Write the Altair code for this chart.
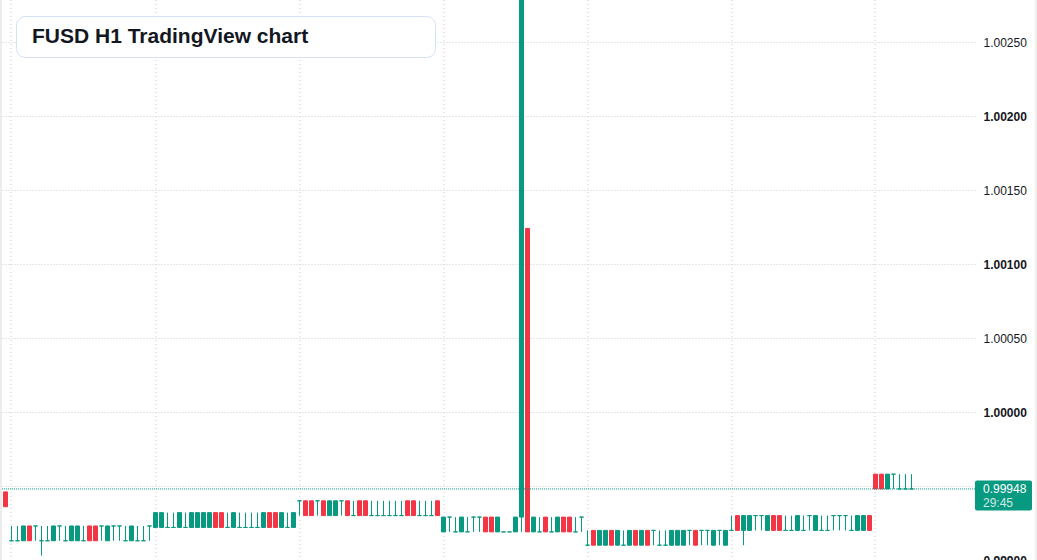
import altair as alt
import pandas as pd

# ---------------- data (one H1 candle per entry) ----------------
opens = [
    0.99946,
    0.99913, 0.99913, 0.99913, 0.99923, 0.99923, 0.99913, 0.99913, 0.99913, 0.99923, 0.99913, 0.99913, 0.99913,
    0.99913, 0.99923, 0.99923, 0.99923, 0.99913, 0.99923, 0.99923, 0.99913, 0.99913, 0.99913, 0.99913, 0.99923,
    0.99922, 0.99922, 0.99922, 0.99922, 0.99922, 0.99922, 0.99922, 0.99922, 0.99922, 0.99922, 0.99932, 0.99932,
    0.99922, 0.99922, 0.99922, 0.99922, 0.99922, 0.99922, 0.99922, 0.99932, 0.99932, 0.99922, 0.99922, 0.99922,
    0.99940, 0.99940, 0.99940, 0.99940, 0.99940, 0.99930, 0.99930, 0.99940, 0.99940, 0.99930, 0.99940, 0.99940,
    0.99930, 0.99930, 0.99930, 0.99930, 0.99930, 0.99930, 0.99940, 0.99940, 0.99930, 0.99930, 0.99930, 0.99940,
    0.99919, 0.99929, 0.99919, 0.99919, 0.99919, 0.99929, 0.99929, 0.99929, 0.99929, 0.99919, 0.99919, 0.99919,
    0.99919, 0.99929, 1.00124, 0.99919, 0.99919, 0.99929, 0.99919, 0.99919, 0.99929, 0.99929, 0.99919, 0.99929,
    0.99910, 0.99920, 0.99910, 0.99910, 0.99920, 0.99910, 0.99910, 0.99910, 0.99920, 0.99910, 0.99920, 0.99920,
    0.99910, 0.99910, 0.99910, 0.99910, 0.99910, 0.99920, 0.99920, 0.99920, 0.99920, 0.99910, 0.99920, 0.99910,
    0.99920, 0.99930, 0.99920, 0.99920, 0.99930, 0.99930, 0.99920, 0.99930, 0.99930, 0.99920, 0.99920, 0.99920,
    0.99920, 0.99930, 0.99920, 0.99920, 0.99920, 0.99930, 0.99930, 0.99930, 0.99920, 0.99920, 0.99920, 0.99930,
    0.99958, 0.99958, 0.99948, 0.99958, 0.99948, 0.99948, 0.99948,
]

closes = [
    0.99936,
    0.99913, 0.99913, 0.99923, 0.99913, 0.99923, 0.99913, 0.99913, 0.99923, 0.99923, 0.99913, 0.99923, 0.99923,
    0.99913, 0.99913, 0.99913, 0.99923, 0.99923, 0.99923, 0.99923, 0.99913, 0.99923, 0.99913, 0.99913, 0.99923,
    0.99932, 0.99932, 0.99922, 0.99922, 0.99932, 0.99922, 0.99932, 0.99932, 0.99932, 0.99932, 0.99922, 0.99922,
    0.99922, 0.99932, 0.99922, 0.99922, 0.99922, 0.99922, 0.99932, 0.99922, 0.99922, 0.99932, 0.99922, 0.99932,
    0.99940, 0.99930, 0.99930, 0.99940, 0.99930, 0.99940, 0.99940, 0.99940, 0.99930, 0.99930, 0.99930, 0.99930,
    0.99930, 0.99930, 0.99930, 0.99930, 0.99930, 0.99930, 0.99930, 0.99930, 0.99930, 0.99930, 0.99930, 0.99930,
    0.99929, 0.99929, 0.99919, 0.99929, 0.99919, 0.99929, 0.99929, 0.99919, 0.99919, 0.99929, 0.99919, 0.99919,
    0.99929, 1.00300, 0.99919, 0.99929, 0.99919, 0.99919, 0.99919, 0.99929, 0.99919, 0.99919, 0.99919, 0.99929,
    0.99910, 0.99910, 0.99920, 0.99920, 0.99910, 0.99920, 0.99910, 0.99920, 0.99910, 0.99920, 0.99910, 0.99920,
    0.99910, 0.99910, 0.99920, 0.99920, 0.99920, 0.99920, 0.99910, 0.99920, 0.99920, 0.99920, 0.99920, 0.99920,
    0.99920, 0.99920, 0.99930, 0.99930, 0.99930, 0.99930, 0.99930, 0.99920, 0.99920, 0.99920, 0.99920, 0.99930,
    0.99920, 0.99930, 0.99930, 0.99920, 0.99920, 0.99930, 0.99930, 0.99930, 0.99920, 0.99930, 0.99930, 0.99920,
    0.99948, 0.99948, 0.99958, 0.99958, 0.99948, 0.99948, 0.99948,
]

highs = [
    0.99946,
    0.99923, 0.99923, 0.99923, 0.99923, 0.99923, 0.99923, 0.99923, 0.99923, 0.99923, 0.99923, 0.99923, 0.99923,
    0.99923, 0.99923, 0.99923, 0.99923, 0.99923, 0.99923, 0.99923, 0.99923, 0.99923, 0.99923, 0.99923, 0.99923,
    0.99932, 0.99932, 0.99932, 0.99932, 0.99932, 0.99932, 0.99932, 0.99932, 0.99932, 0.99932, 0.99932, 0.99932,
    0.99932, 0.99932, 0.99932, 0.99932, 0.99932, 0.99932, 0.99932, 0.99932, 0.99932, 0.99932, 0.99932, 0.99932,
    0.99940, 0.99940, 0.99940, 0.99940, 0.99940, 0.99940, 0.99940, 0.99940, 0.99940, 0.99940, 0.99940, 0.99940,
    0.99940, 0.99940, 0.99940, 0.99940, 0.99940, 0.99940, 0.99940, 0.99940, 0.99940, 0.99940, 0.99940, 0.99940,
    0.99929, 0.99929, 0.99929, 0.99929, 0.99929, 0.99929, 0.99929, 0.99929, 0.99929, 0.99929, 0.99919, 0.99919,
    0.99929, 1.00300, 1.00124, 0.99929, 0.99929, 0.99929, 0.99929, 0.99929, 0.99929, 0.99929, 0.99929, 0.99929,
    0.99920, 0.99920, 0.99920, 0.99920, 0.99920, 0.99920, 0.99920, 0.99920, 0.99920, 0.99920, 0.99920, 0.99920,
    0.99920, 0.99920, 0.99920, 0.99920, 0.99920, 0.99920, 0.99920, 0.99920, 0.99920, 0.99920, 0.99920, 0.99920,
    0.99930, 0.99930, 0.99930, 0.99930, 0.99930, 0.99930, 0.99930, 0.99930, 0.99930, 0.99930, 0.99930, 0.99930,
    0.99930, 0.99930, 0.99930, 0.99930, 0.99930, 0.99930, 0.99930, 0.99930, 0.99930, 0.99930, 0.99930, 0.99930,
    0.99958, 0.99958, 0.99958, 0.99958, 0.99958, 0.99958, 0.99958,
]

lows = [
    0.99936,
    0.99913, 0.99913, 0.99913, 0.99913, 0.99913, 0.99903, 0.99913, 0.99913, 0.99913, 0.99913, 0.99913, 0.99913,
    0.99913, 0.99913, 0.99913, 0.99913, 0.99913, 0.99913, 0.99913, 0.99913, 0.99913, 0.99913, 0.99913, 0.99913,
    0.99922, 0.99922, 0.99922, 0.99922, 0.99922, 0.99922, 0.99922, 0.99922, 0.99922, 0.99922, 0.99922, 0.99922,
    0.99922, 0.99922, 0.99922, 0.99922, 0.99922, 0.99922, 0.99922, 0.99922, 0.99922, 0.99922, 0.99922, 0.99922,
    0.99930, 0.99930, 0.99930, 0.99930, 0.99930, 0.99930, 0.99930, 0.99930, 0.99930, 0.99930, 0.99930, 0.99930,
    0.99930, 0.99930, 0.99930, 0.99930, 0.99930, 0.99930, 0.99930, 0.99930, 0.99930, 0.99930, 0.99930, 0.99930,
    0.99919, 0.99919, 0.99919, 0.99919, 0.99919, 0.99919, 0.99919, 0.99919, 0.99919, 0.99919, 0.99919, 0.99919,
    0.99919, 0.99919, 0.99919, 0.99919, 0.99919, 0.99919, 0.99919, 0.99919, 0.99919, 0.99919, 0.99919, 0.99919,
    0.99910, 0.99910, 0.99910, 0.99910, 0.99910, 0.99910, 0.99910, 0.99910, 0.99910, 0.99910, 0.99910, 0.99910,
    0.99910, 0.99910, 0.99910, 0.99910, 0.99910, 0.99910, 0.99910, 0.99910, 0.99910, 0.99910, 0.99910, 0.99910,
    0.99920, 0.99920, 0.99910, 0.99920, 0.99920, 0.99920, 0.99920, 0.99920, 0.99920, 0.99920, 0.99920, 0.99920,
    0.99920, 0.99920, 0.99920, 0.99920, 0.99920, 0.99920, 0.99920, 0.99920, 0.99920, 0.99920, 0.99920, 0.99920,
    0.99948, 0.99948, 0.99948, 0.99948, 0.99948, 0.99948, 0.99948,
]

day_start_bars = [1, 25, 49, 73, 97, 121, 145]
price_ticks = [0.9990, 0.9995, 1.0000, 1.0005, 1.0010, 1.0015, 1.0020, 1.0025]
last_price = [0.99948]
countdown = ["29:45"]
title_text = ["FUSD H1 TradingView chart"]

# ---------------- styling ----------------
UP = "#089981"
DOWN = "#F23645"
GRID = "#cfcfcf"
TEXT = "#131722"
FONT = "Liberation Sans"
PLOT_W, PLOT_H = 975, 560

candles = pd.DataFrame({
    "bar": list(range(len(opens))),
    "open": opens, "high": highs, "low": lows, "close": closes,
})
last_df = pd.DataFrame({"p": last_price, "lbl": ["%.5f" % v for v in last_price], "cd": countdown})
one = pd.DataFrame({"t": title_text})

x_scale = alt.Scale(domain=[-5.5 / 6, (PLOT_W - 5.5) / 6], nice=False, zero=False, padding=0)
y_scale = alt.Scale(domain=[0.999, 1 + 412 / 148000], nice=False, zero=False, padding=0)

x_axis = alt.Axis(values=day_start_bars, grid=True, gridColor=GRID, gridDash=[1, 3],
                  labels=False, ticks=False, domain=False, title=None, translate=0)
# a scale label that sits under the last-price tag is covered by it, so it is left blank
y_axis = alt.Axis(values=price_ticks, orient="right", format=".5f", grid=True,
                  gridColor=GRID, gridDash=[1, 2], ticks=False, domain=False, title=None,
                  labelPadding=8, labelFont=FONT, labelFontSize=12, labelColor=TEXT,
                  labelFlush=False, labelOverlap=False,
                  labelExpr="abs(datum.value - %r) < 0.00008 ? '' : datum.label" % last_price[0],
                  labelFontWeight={"condition": {"test": "round(datum.value * 10000) % 10 == 0",
                                                 "value": "bold"}, "value": "normal"})

dir_scale = alt.Scale(domain=["up", "down"], range=[UP, DOWN])

base = alt.Chart(candles).transform_calculate(
    dir="datum.close >= datum.open ? 'up' : 'down'"
)

wicks = base.mark_rule(strokeWidth=1, clip=True).encode(
    x=alt.X("bar:Q", scale=x_scale, axis=x_axis),
    y=alt.Y("low:Q", scale=y_scale, axis=y_axis),
    y2="high:Q",
    color=alt.Color("dir:N", scale=dir_scale, legend=None),
)

bodies = base.mark_bar(size=4, strokeWidth=1, clip=True).encode(
    x=alt.X("bar:Q", scale=x_scale, axis=x_axis),
    y=alt.Y("open:Q", scale=y_scale, axis=y_axis),
    y2="close:Q",
    color=alt.Color("dir:N", scale=dir_scale, legend=None),
    stroke=alt.Stroke("dir:N", scale=dir_scale, legend=None),
)

last_line = alt.Chart(last_df).mark_rule(color=UP, strokeWidth=1, strokeDash=[1, 1]).encode(
    y=alt.Y("p:Q", scale=y_scale, axis=y_axis),
    x=alt.value(0), x2=alt.value(PLOT_W),
)

last_box = alt.Chart(last_df).mark_rect(color=UP, cornerRadius=2, yOffset=-8.5, y2Offset=21.5).encode(
    y=alt.Y("p:Q", scale=y_scale, axis=y_axis),
    y2="p:Q",
    x=alt.value(PLOT_W), x2=alt.value(1032),
)

last_txt = alt.Chart(last_df).mark_text(align="left", baseline="middle", font=FONT,
                                        fontSize=12, color="white").encode(
    y=alt.Y("p:Q", scale=y_scale, axis=y_axis),
    x=alt.value(983), text="lbl:N",
)

cd_txt = alt.Chart(last_df).mark_text(align="left", baseline="middle", font=FONT, dy=14,
                                      fontSize=12, color="white", opacity=0.8).encode(
    y=alt.Y("p:Q", scale=y_scale, axis=y_axis),
    x=alt.value(983), text="cd:N",
)

title_box = alt.Chart(one).mark_rect(fill="white", stroke="#d3e2f7", strokeWidth=1,
                                     cornerRadius=9).encode(
    x=alt.value(16.5), x2=alt.value(435.5), y=alt.value(16.5), y2=alt.value(57.5),
)

title_txt = alt.Chart(one).mark_text(align="left", baseline="middle", font=FONT, fontSize=21,
                                     fontWeight="bold", color=TEXT).encode(
    x=alt.value(32), y=alt.value(37), text="t:N",
)

left_edge = alt.Chart(one).mark_rect(color="#ececec").encode(
    x=alt.value(0), x2=alt.value(2), y=alt.value(0), y2=alt.value(PLOT_H),
)
right_edge = alt.Chart(one).mark_rect(color="#f0f0f0").encode(
    x=alt.value(1035), x2=alt.value(1037), y=alt.value(0), y2=alt.value(PLOT_H),
)

chart = alt.layer(
    wicks, bodies, last_line, last_box, last_txt, cd_txt, title_box, title_txt, left_edge, right_edge
).properties(
    width=PLOT_W, height=PLOT_H,
    padding={"left": 0, "right": 62, "top": 0, "bottom": 0},
    autosize=alt.AutoSizeParams(type="none"),
    background="white",
).configure_view(stroke=None)

chart.save("out.html", embed_options={"renderer": "svg", "actions": False})
